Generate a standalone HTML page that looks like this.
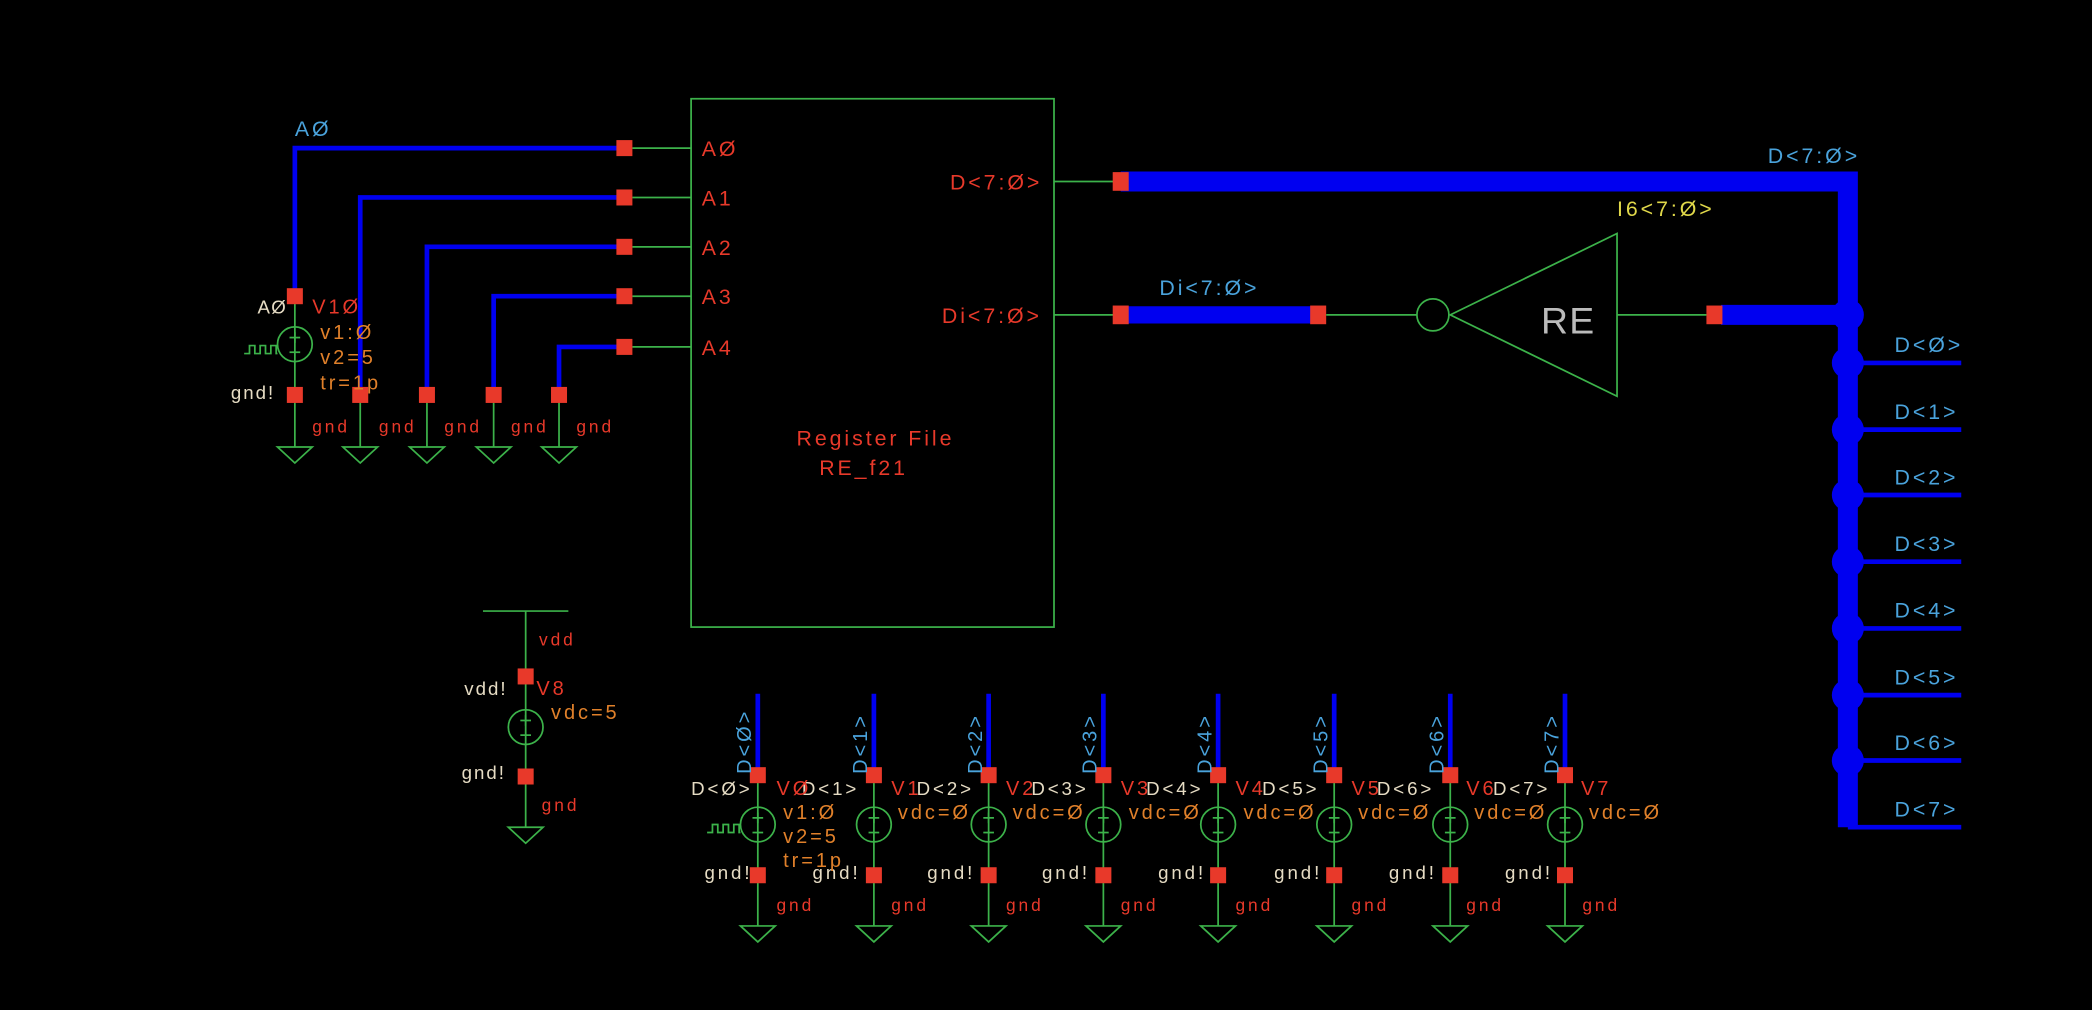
<!DOCTYPE html>
<html><head><meta charset="utf-8"><style>
html,body{margin:0;padding:0;background:#000;width:2092px;height:1010px;overflow:hidden}
svg{display:block;font-size:15px}
text{font-family:"Liberation Sans",sans-serif;letter-spacing:2.2px}
.g{stroke:#3cb24a;stroke-width:1.3;fill:none}
.r{fill:#e8392a}
.lb{fill:#4aa3dc}.cr{fill:#e6dcc4}.rd{fill:#e8392a}.or{fill:#e0802a}.ye{fill:#e0d84a}
</style></head><body>
<svg width="2092" height="1010" viewBox="0 0 1568 757" xmlns="http://www.w3.org/2000/svg">
<defs>
<g id="src">
 <circle class="g" cx="0" cy="0" r="13"/>
 <line class="g" x1="0" y1="-9" x2="0" y2="-1"/><line class="g" x1="-4" y1="-5" x2="4" y2="-5"/>
 <line class="g" x1="-4" y1="6" x2="4" y2="6"/>
</g>
<g id="gnd"><polygon class="g" points="-13,0 13,0 0,12"/></g>
<g id="pulse"><polyline class="g" points="-38,3 -34,3 -34,-3 -30,-3 -30,3 -26,3 -26,-3 -22,-3 -22,3 -18,3 -18,-3 -14,-3 -14,3 -13,3"/></g>
<g id="col">
 <line class="g" x1="0" y1="581" x2="0" y2="694"/>
 <line x1="0" y1="520" x2="0" y2="581" stroke="#0000f0" stroke-width="3.5"/>
 <rect class="r" x="-6" y="575" width="12" height="12"/>
 <rect class="r" x="-6" y="650" width="12" height="12"/>
 <use href="#src" x="0" y="618"/>
 <use href="#gnd" x="0" y="694"/>
</g>
</defs>
<rect width="1568" height="757" fill="#000"/>

<rect class="g" x="518" y="74" width="272" height="396"/>
<text x="597" y="334" class="rd" font-size="16">Register File</text>
<text x="614" y="356" class="rd" font-size="16">RE_f21</text>
<g class="g">
<line x1="474" y1="111" x2="518" y2="111"/><line x1="474" y1="148" x2="518" y2="148"/>
<line x1="474" y1="185" x2="518" y2="185"/><line x1="474" y1="222" x2="518" y2="222"/>
<line x1="474" y1="260" x2="518" y2="260"/>
<line x1="790" y1="136" x2="840" y2="136"/><line x1="790" y1="236" x2="840" y2="236"/>
</g>
<text x="526" y="117" class="rd" font-size="16">AØ</text><text x="526" y="154" class="rd" font-size="16">A1</text>
<text x="526" y="191" class="rd" font-size="16">A2</text><text x="526" y="228" class="rd" font-size="16">A3</text>
<text x="526" y="266" class="rd" font-size="16">A4</text>
<text x="712" y="142" class="rd" font-size="16">D&lt;7:Ø&gt;</text>
<text x="706" y="242" class="rd" font-size="16">Di&lt;7:Ø&gt;</text>

<g fill="none" stroke="#0000f0" stroke-width="3.5">
<polyline points="468,111 221,111 221,222"/>
<polyline points="468,148 270,148 270,296"/>
<polyline points="468,185 320,185 320,296"/>
<polyline points="468,222 370,222 370,296"/>
<polyline points="468,260 419,260 419,296"/>
</g>
<text x="221" y="102" class="lb" font-size="16">AØ</text>
<g class="r">
<rect x="462" y="105" width="12" height="12"/><rect x="462" y="142" width="12" height="12"/>
<rect x="462" y="179" width="12" height="12"/><rect x="462" y="216" width="12" height="12"/>
<rect x="462" y="254" width="12" height="12"/>
</g>
<line class="g" x1="221" y1="222" x2="221" y2="335"/>
<use href="#src" x="221" y="258"/><use href="#pulse" x="221" y="262"/>
<g class="g"><line x1="270" y1="296" x2="270" y2="335"/><line x1="320" y1="296" x2="320" y2="335"/>
<line x1="370" y1="296" x2="370" y2="335"/><line x1="419" y1="296" x2="419" y2="335"/></g>
<g class="r">
<rect x="215" y="216" width="12" height="12"/><rect x="215" y="290" width="12" height="12"/>
<rect x="264" y="290" width="12" height="12"/><rect x="314" y="290" width="12" height="12"/>
<rect x="364" y="290" width="12" height="12"/><rect x="413" y="290" width="12" height="12"/>
</g>
<use href="#gnd" x="221" y="335"/><use href="#gnd" x="270" y="335"/><use href="#gnd" x="320" y="335"/>
<use href="#gnd" x="370" y="335"/><use href="#gnd" x="419" y="335"/>
<text x="193" y="235" class="cr" font-size="14" style="letter-spacing:1px">AØ</text>
<text x="234" y="235" class="rd">V1Ø</text>
<text x="240" y="254" class="or">v1:Ø</text>
<text x="240" y="273" class="or">v2=5</text>
<text x="240" y="292" class="or">tr=1p</text>
<text x="173" y="299" class="cr" font-size="14" style="letter-spacing:1.5px">gnd!</text>
<g class="rd" font-size="13"><text x="234" y="324">gnd</text><text x="284" y="324">gnd</text>
<text x="333" y="324">gnd</text><text x="383" y="324">gnd</text><text x="432" y="324">gnd</text></g>

<line class="g" x1="362" y1="458" x2="426" y2="458"/>
<line class="g" x1="394" y1="458" x2="394" y2="620"/>
<rect class="r" x="388" y="501" width="12" height="12"/>
<rect class="r" x="388" y="576" width="12" height="12"/>
<use href="#src" x="394" y="545"/><use href="#gnd" x="394" y="620"/>
<text x="404" y="484" class="rd" font-size="13">vdd</text>
<text x="348" y="521" class="cr" font-size="14" style="letter-spacing:1.5px">vdd!</text>
<text x="402" y="521" class="rd">V8</text>
<text x="413" y="539" class="or">vdc=5</text>
<text x="346" y="584" class="cr" font-size="14" style="letter-spacing:1.5px">gnd!</text>
<text x="406" y="608" class="rd" font-size="13">gnd</text>

<polyline points="840,136 1385,136 1385,620" fill="none" stroke="#0000f0" stroke-width="15"/>
<line x1="988" y1="236" x2="840" y2="236" stroke="#0000f0" stroke-width="13"/>
<line x1="1290" y1="236" x2="1385" y2="236" stroke="#0000f0" stroke-width="15"/>
<rect class="r" x="834" y="129" width="12" height="14"/>
<rect class="r" x="834" y="229" width="12" height="14"/>
<rect class="r" x="982" y="229" width="12" height="14"/>
<rect class="r" x="1279" y="229" width="12" height="14"/>
<text x="1325" y="122" class="lb" font-size="16">D&lt;7:Ø&gt;</text>
<text x="869" y="221" class="lb" font-size="16">Di&lt;7:Ø&gt;</text>
<text x="1212" y="162" class="ye" font-size="16">I6&lt;7:Ø&gt;</text>
<line class="g" x1="994" y1="236" x2="1062" y2="236"/>
<circle class="g" cx="1074" cy="236" r="12"/>
<polygon class="g" points="1087,236 1212,175 1212,297"/>
<line class="g" x1="1212" y1="236" x2="1279" y2="236"/>
<text x="1155" y="250" fill="#bbb" font-size="28" style="letter-spacing:1px">RE</text>
<g fill="#0000f0">
<circle cx="1385" cy="236" r="12"/>
<circle cx="1385" cy="272" r="12"/><circle cx="1385" cy="322" r="12"/><circle cx="1385" cy="371" r="12"/>
<circle cx="1385" cy="421" r="12"/><circle cx="1385" cy="471" r="12"/><circle cx="1385" cy="521" r="12"/>
<circle cx="1385" cy="570" r="12"/>
</g>
<g stroke="#0000f0" stroke-width="3.5">
<line x1="1385" y1="272" x2="1470" y2="272"/><line x1="1385" y1="322" x2="1470" y2="322"/>
<line x1="1385" y1="371" x2="1470" y2="371"/><line x1="1385" y1="421" x2="1470" y2="421"/>
<line x1="1385" y1="471" x2="1470" y2="471"/><line x1="1385" y1="521" x2="1470" y2="521"/>
<line x1="1385" y1="570" x2="1470" y2="570"/><line x1="1385" y1="620" x2="1470" y2="620"/>
</g>
<g class="lb" font-size="16">
<text x="1420" y="264">D&lt;Ø&gt;</text><text x="1420" y="314">D&lt;1&gt;</text><text x="1420" y="363">D&lt;2&gt;</text>
<text x="1420" y="413">D&lt;3&gt;</text><text x="1420" y="463">D&lt;4&gt;</text><text x="1420" y="513">D&lt;5&gt;</text>
<text x="1420" y="562">D&lt;6&gt;</text><text x="1420" y="612">D&lt;7&gt;</text>
</g>

<use href="#col" x="568"/><use href="#col" x="655"/><use href="#col" x="741"/><use href="#col" x="827"/>
<use href="#col" x="913"/><use href="#col" x="1000"/><use href="#col" x="1087"/><use href="#col" x="1173"/>
<use href="#pulse" x="568" y="621"/>
<g class="lb" font-size="15" style="letter-spacing:1px">
<text transform="translate(563,580) rotate(-90)">D&lt;Ø&gt;</text>
<text transform="translate(650,580) rotate(-90)">D&lt;1&gt;</text>
<text transform="translate(736,580) rotate(-90)">D&lt;2&gt;</text>
<text transform="translate(822,580) rotate(-90)">D&lt;3&gt;</text>
<text transform="translate(908,580) rotate(-90)">D&lt;4&gt;</text>
<text transform="translate(995,580) rotate(-90)">D&lt;5&gt;</text>
<text transform="translate(1082,580) rotate(-90)">D&lt;6&gt;</text>
<text transform="translate(1168,580) rotate(-90)">D&lt;7&gt;</text>
</g>
<g class="cr" font-size="14" style="letter-spacing:1.5px">
<text x="518" y="596">D&lt;Ø&gt;</text><text x="601" y="596">D&lt;1&gt;</text><text x="687" y="596">D&lt;2&gt;</text>
<text x="773" y="596">D&lt;3&gt;</text><text x="859" y="596">D&lt;4&gt;</text><text x="946" y="596">D&lt;5&gt;</text>
<text x="1032" y="596">D&lt;6&gt;</text><text x="1119" y="596">D&lt;7&gt;</text>
<text x="528" y="659">gnd!</text><text x="609" y="659">gnd!</text><text x="695" y="659">gnd!</text>
<text x="781" y="659">gnd!</text><text x="868" y="659">gnd!</text><text x="955" y="659">gnd!</text>
<text x="1041" y="659">gnd!</text><text x="1128" y="659">gnd!</text>
</g>
<g class="rd">
<text x="582" y="596">VØ</text><text x="668" y="596">V1</text><text x="754" y="596">V2</text>
<text x="840" y="596">V3</text><text x="926" y="596">V4</text><text x="1013" y="596">V5</text>
<text x="1099" y="596">V6</text><text x="1185" y="596">V7</text>
</g>
<g class="or">
<text x="587" y="614">v1:Ø</text><text x="587" y="632">v2=5</text><text x="587" y="650">tr=1p</text>
<text x="673" y="614">vdc=Ø</text><text x="759" y="614">vdc=Ø</text><text x="846" y="614">vdc=Ø</text>
<text x="932" y="614">vdc=Ø</text><text x="1018" y="614">vdc=Ø</text><text x="1105" y="614">vdc=Ø</text>
<text x="1191" y="614">vdc=Ø</text>
</g>
<g class="rd" font-size="13">
<text x="582" y="683">gnd</text><text x="668" y="683">gnd</text><text x="754" y="683">gnd</text>
<text x="840" y="683">gnd</text><text x="926" y="683">gnd</text><text x="1013" y="683">gnd</text>
<text x="1099" y="683">gnd</text><text x="1186" y="683">gnd</text>
</g>
</svg>
</body></html>
